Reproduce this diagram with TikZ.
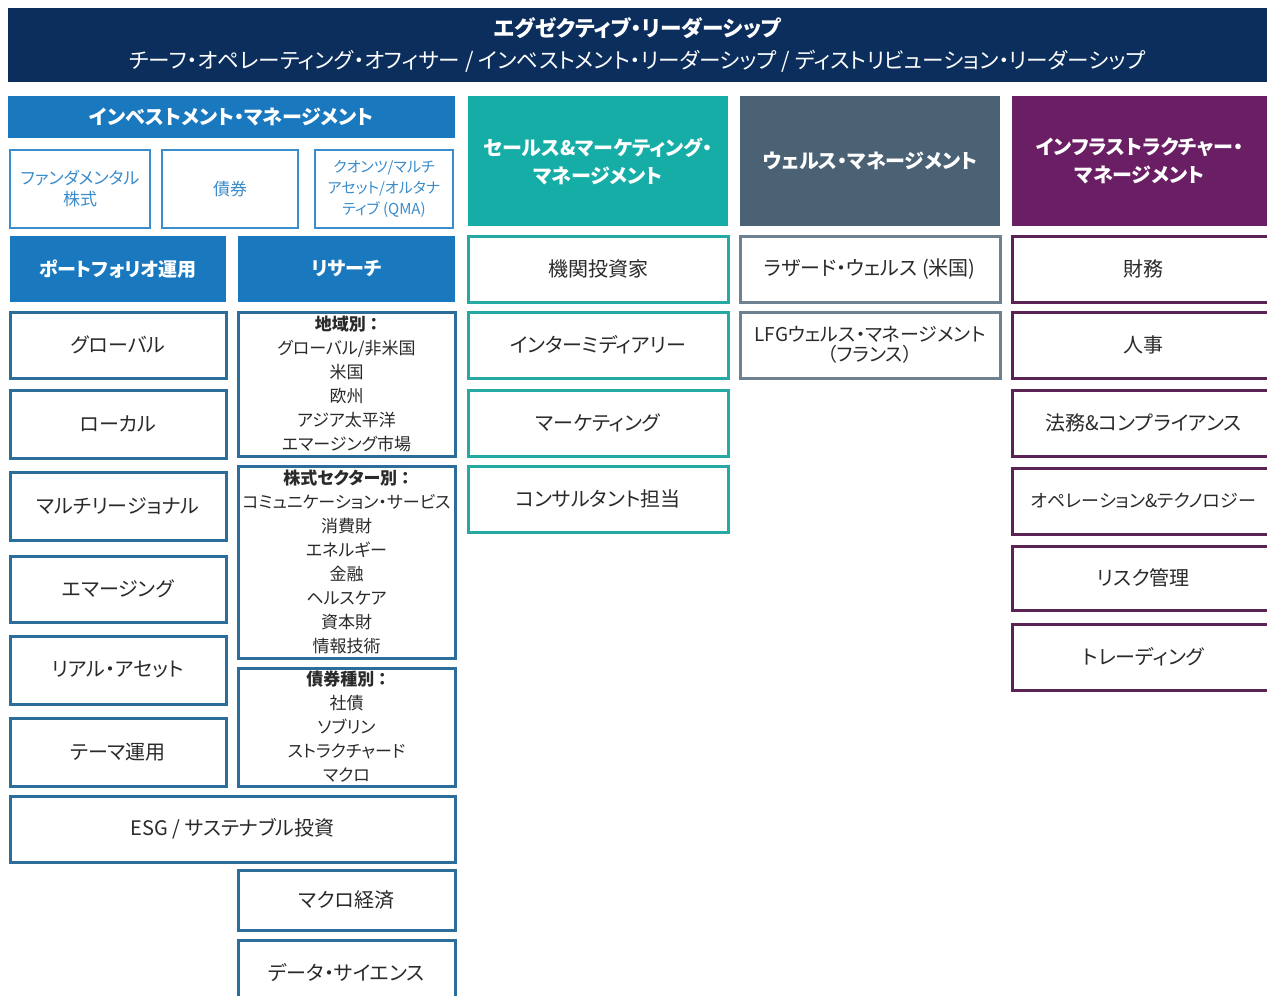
\documentclass[tikz,border=0pt]{standalone}
\usepackage{fontspec}
\setmainfont{Noto Sans CJK JP}[RawFeature=+palt]
\definecolor{navy}{HTML}{0B2E5C}
\definecolor{imblue}{HTML}{1A79BE}
\definecolor{lightbl}{HTML}{3A8CCB}
\definecolor{pmbord}{HTML}{2C6E9B}
\definecolor{teal}{HTML}{17ADA7}
\definecolor{tealbord}{HTML}{27A9A3}
\definecolor{slate}{HTML}{4B6275}
\definecolor{slatebord}{HTML}{6E8190}
\definecolor{purp}{HTML}{6A1E63}
\definecolor{purpbord}{HTML}{5B2254}
\definecolor{txt}{HTML}{2A2A2A}
\newcommand\bx[7][]{\node[#1, anchor=north west, minimum width={(#4-#2)*1pt}, minimum height={(#5-#3)*1pt}] (#6) at (#2,#3) {#7};}
\tikzset{
  base/.style={inner sep=0pt, outer sep=0pt, align=center},
  hdrbox/.style={base, fill=#1, draw=none, text=white, font=\fontsize{20}{28}\selectfont\bfseries},
  topbox/.style={base, draw=lightbl, line width=1.5pt, text=lightbl, font=\fontsize{17}{21}\selectfont},
  pmbox/.style={base, draw=pmbord, line width=3pt, fill=white, text=txt, font=\fontsize{20}{24}\selectfont},
  listbox/.style={base, draw=pmbord, line width=3pt, fill=white, text=txt, font=\fontsize{17}{24}\selectfont},
  salesbox/.style={base, draw=tealbord, line width=3pt, fill=white, text=txt, font=\fontsize{20}{24}\selectfont},
  wealthbox/.style={base, draw=slatebord, line width=3pt, fill=white, text=txt, font=\fontsize{20}{24}\selectfont},
  infrabox/.style={base, draw=purpbord, line width=3pt, fill=white, text=txt, font=\fontsize{20}{24}\selectfont},
}
\begin{document}
\begin{tikzpicture}[x=1pt, y=-1pt]
\useasboundingbox[fill=white] (0,0) rectangle (1267,996);
% executive header
\bx[hdrbox=navy, font=\fontsize{21.6}{32}\selectfont]{8}{8}{1267}{82}{exec}{{\bfseries エグゼクティブ・リーダーシップ}\\チーフ・オペレーティング・オフィサー / インベストメント・リーダーシップ / ディストリビューション・リーダーシップ}
% investment management
\bx[hdrbox=imblue]{8}{96}{455}{138}{im}{インベストメント・マネージメント}
\bx[topbox]{10}{150}{150}{228}{fund}{ファンダメンタル\\株式}
\bx[topbox]{162}{150}{298}{228}{bond}{債券}
\bx[topbox, font=\fontsize{15}{21}\selectfont]{315}{150}{453}{228}{qma}{クオンツ/マルチ\\アセット/オルタナ\\ティブ (QMA)}
\bx[hdrbox=imblue, font=\fontsize{19}{24}\selectfont\bfseries]{10}{236}{226}{302}{pm}{ポートフォリオ運用}
\bx[hdrbox=imblue, font=\fontsize{19}{24}\selectfont\bfseries]{238}{236}{455}{302}{res}{リサーチ}
% portfolio management boxes
\bx[pmbox]{10}{312}{226}{378}{glob}{グローバル}
\bx[pmbox]{10}{390}{226}{458}{local}{ローカル}
\bx[pmbox]{10}{472}{226}{540}{multi}{マルチリージョナル}
\bx[pmbox]{10}{556}{226}{622}{emer}{エマージング}
\bx[pmbox]{10}{636}{226}{704}{real}{リアル・アセット}
\bx[pmbox]{10}{718}{226}{786}{theme}{テーマ運用}
% research boxes
\bx[listbox]{238}{312}{455}{456}{region}{\textbf{地域別 ：}\\グローバル/非米国\\米国\\欧州\\アジア太平洋\\エマージング市場}
\bx[listbox]{238}{466}{455}{658}{sector}{\textbf{株式セクター別 ：}\\コミュニケーション・サービス\\消費財\\エネルギー\\金融\\ヘルスケア\\資本財\\情報技術}
\bx[listbox]{238}{668}{455}{786}{bondtype}{\textbf{債券種別 ：}\\社債\\ソブリン\\ストラクチャード\\マクロ}
\bx[pmbox]{10}{796}{455}{862}{esg}{ESG / サステナブル投資}
\bx[pmbox]{238}{870}{455}{930}{macro}{マクロ経済}
\bx[pmbox]{238}{940}{455}{1005}{data}{データ・サイエンス}
% sales & marketing
\bx[hdrbox=teal]{468}{96}{728}{226}{sales}{セールス\&マーケティング・\\マネージメント}
\bx[salesbox]{468}{236}{728}{302}{inst}{機関投資家}
\bx[salesbox]{468}{312}{728}{378}{inter}{インターミディアリー}
\bx[salesbox]{468}{390}{728}{456}{mkt}{マーケティング}
\bx[salesbox]{468}{466}{728}{532}{cons}{コンサルタント担当}
% wealth management
\bx[hdrbox=slate]{740}{96}{1000}{226}{wealth}{ウェルス・マネージメント}
\bx[wealthbox]{740}{236}{1000}{302}{lazus}{ラザード・ウェルス (米国)}
\bx[wealthbox, font=\fontsize{19}{20}\selectfont]{740}{312}{1000}{378}{lfg}{LFGウェルス・マネージメント\\（フランス）}
% infrastructure management
\bx[hdrbox=purp]{1012}{96}{1267}{226}{infra}{インフラストラクチャー・\\マネージメント}
\bx[infrabox]{1012}{236}{1275}{302}{fin}{財務}
\bx[infrabox]{1012}{312}{1275}{378}{hr}{人事}
\bx[infrabox]{1012}{390}{1275}{456}{legal}{法務\&コンプライアンス}
\bx[infrabox, font=\fontsize{18}{24}\selectfont]{1012}{468}{1275}{534}{ops}{オペレーション\&テクノロジー}
\bx[infrabox]{1012}{546}{1275}{610}{risk}{リスク管理}
\bx[infrabox]{1012}{624}{1275}{690}{trade}{トレーディング}
\end{tikzpicture}
\end{document}
